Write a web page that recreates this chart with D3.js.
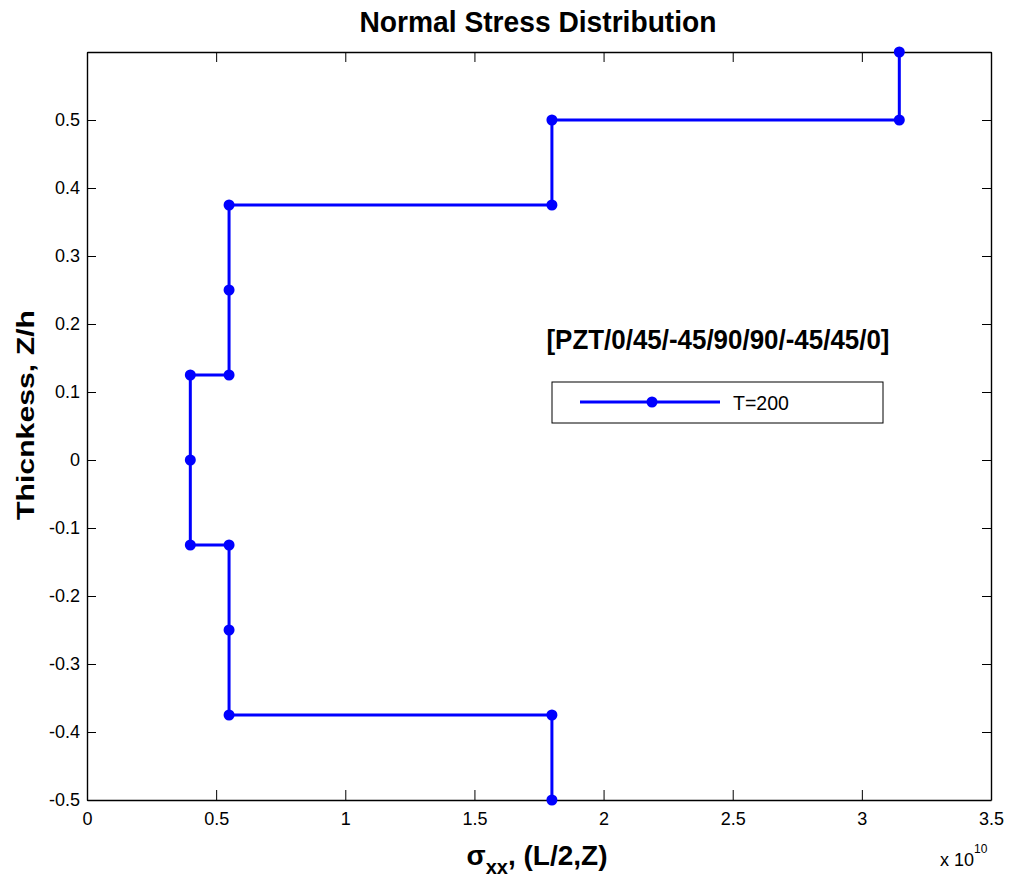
<!DOCTYPE html>
<html>
<head>
<meta charset="utf-8">
<script src="https://cdn.jsdelivr.net/npm/d3@7"></script>
<style>
  body { margin: 0; background: #fff; }
  svg { display: block; font-family: "Liberation Sans", Arial, sans-serif; }
</style>
</head>
<body>
<div id="container"></div>
<script>
// through-thickness points, bottom to top (Z/h) and normal stress sigma_xx (Pa)
const thickness = [-0.5, -0.375, -0.375, -0.25, -0.125, -0.125, 0, 0.125, 0.125, 0.25, 0.375, 0.375, 0.5, 0.5, 0.6];
const stress = [1.8e10, 1.8e10, 0.55e10, 0.55e10, 0.55e10, 0.4e10, 0.4e10, 0.4e10, 0.55e10, 0.55e10, 0.55e10, 1.8e10, 1.8e10, 3.145e10, 3.145e10];
const xTicks = [0, 0.5e10, 1e10, 1.5e10, 2e10, 2.5e10, 3e10, 3.5e10];
const yTicks = [-0.5, -0.4, -0.3, -0.2, -0.1, 0, 0.1, 0.2, 0.3, 0.4, 0.5];
const seriesName = "T=200";
const layup = "[PZT/0/45/-45/90/90/-45/45/0]";

const W = 1009, H = 881;
const margin = {top: 52, right: 18, bottom: 81, left: 87};
const width = W - margin.left - margin.right;
const height = H - margin.top - margin.bottom;

const svg = d3.select("#container").append("svg")
  .attr("width", W)
  .attr("height", H);

const g = svg.append("g")
  .attr("transform", `translate(${margin.left},${margin.top})`);

const x = d3.scaleLinear().domain([0, 3.5e10]).range([0, width]);
const y = d3.scaleLinear().domain([-0.5, 0.6]).range([height, 0]);

const fmtX = d => String(+(d / 1e10).toFixed(1));
const fmtY = d => String(+d.toFixed(1));

// axes with inward ticks on all four sides (matlab box)
g.append("g").attr("transform", `translate(0,${height})`)
  .call(d3.axisBottom(x).tickValues(xTicks).tickFormat(fmtX).tickSizeInner(-10).tickSizeOuter(0).tickPadding(12));
g.append("g")
  .call(d3.axisLeft(y).tickValues(yTicks).tickFormat(fmtY).tickSizeInner(-9).tickSizeOuter(0).tickPadding(7));
g.append("g")
  .call(d3.axisTop(x).tickValues(xTicks).tickFormat("").tickSizeInner(-10).tickSizeOuter(0));
g.append("g").attr("transform", `translate(${width},0)`)
  .call(d3.axisRight(y).tickValues(yTicks).tickFormat("").tickSizeInner(-9).tickSizeOuter(0));

g.selectAll(".domain").attr("stroke", "#000").attr("stroke-width", 1.4);
g.selectAll(".tick line").attr("stroke", "#000").attr("stroke-width", 1);
g.selectAll(".tick text").attr("fill", "#000").style("font-size", "18px");

// stress profile
const pts = thickness.map((z, i) => ({x: stress[i], z}));
const line = d3.line().x(d => x(d.x)).y(d => y(d.z));

g.append("path")
  .datum(pts)
  .attr("fill", "none")
  .attr("stroke", "#0000ff")
  .attr("stroke-width", 3)
  .attr("d", line);

g.selectAll(".pt")
  .data(pts)
  .join("circle")
  .attr("class", "pt")
  .attr("cx", d => x(d.x))
  .attr("cy", d => y(d.z))
  .attr("r", 5.5)
  .attr("fill", "#0000ff");

// title
svg.append("text")
  .attr("x", 538).attr("y", 32)
  .attr("text-anchor", "middle")
  .attr("textLength", 357).attr("lengthAdjust", "spacingAndGlyphs")
  .style("font-size", "30px").style("font-weight", "bold")
  .text("Normal Stress Distribution");

// y label
svg.append("text")
  .attr("transform", "translate(34,415) rotate(-90) scale(1,0.85)")
  .attr("text-anchor", "middle")
  .attr("textLength", 210).attr("lengthAdjust", "spacingAndGlyphs")
  .style("font-size", "28px").style("font-weight", "bold")
  .text("Thicnkess, Z/h");

// x label
const xl = svg.append("text")
  .attr("x", 537).attr("y", 865)
  .attr("text-anchor", "middle")
  .style("font-size", "28px").style("font-weight", "bold");
xl.append("tspan").text("σ");
xl.append("tspan").attr("dy", 9).style("font-size", "20px").text("xx");
xl.append("tspan").attr("dy", -9).text(", (L/2,Z)");

// exponent label
const ex = svg.append("text")
  .attr("x", 940).attr("y", 866)
  .style("font-size", "18px");
ex.append("tspan").text("x 10");
ex.append("tspan").attr("dy", -13).style("font-size", "12px").text("10");

// layup annotation
g.append("text")
  .attr("x", x(2.443e10)).attr("y", y(0.163))
  .attr("text-anchor", "middle")
  .attr("textLength", 343).attr("lengthAdjust", "spacingAndGlyphs")
  .style("font-size", "28px").style("font-weight", "bold")
  .text(layup);

// legend
const lg = svg.append("g").attr("transform", "translate(552,382)");
lg.append("rect")
  .attr("width", 331).attr("height", 41)
  .attr("fill", "#fff").attr("stroke", "#000").attr("stroke-width", 1);
lg.append("line")
  .attr("x1", 28).attr("x2", 168).attr("y1", 20).attr("y2", 20)
  .attr("stroke", "#0000ff").attr("stroke-width", 3);
lg.append("circle")
  .attr("cx", 100).attr("cy", 20).attr("r", 5.5).attr("fill", "#0000ff");
lg.append("text")
  .attr("x", 181).attr("y", 28)
  .attr("textLength", 56).attr("lengthAdjust", "spacingAndGlyphs")
  .style("font-size", "21px")
  .text(seriesName);
</script>
</body>
</html>
